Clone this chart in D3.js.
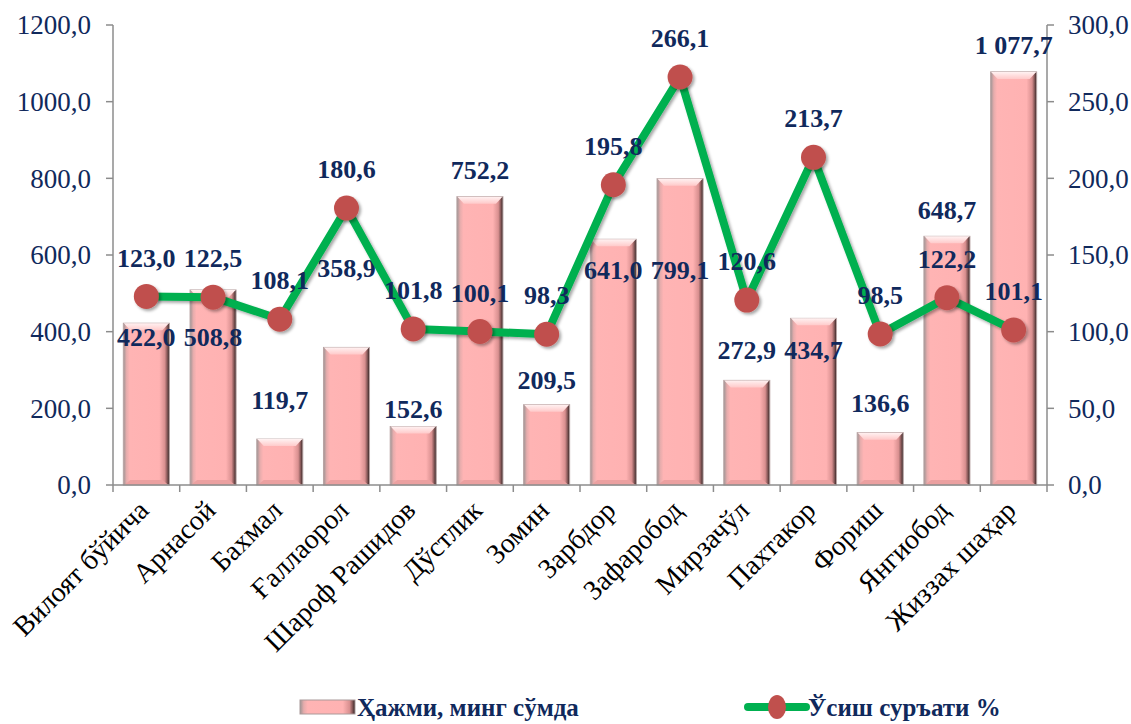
<!DOCTYPE html>
<html>
<head>
<meta charset="utf-8">
<script src="https://cdn.jsdelivr.net/npm/d3@7"></script>
<style>
  body { margin: 0; background: #fff; }
</style>
</head>
<body>
<svg id="chart" width="1131" height="724"></svg>
<script>
// chart data
const categories = ["Вилоят бўйича", "Арнасой", "Бахмал", "Ғаллаорол", "Шароф Рашидов", "Дўстлик", "Зомин",
  "Зарбдор", "Зафаробод", "Мирзачўл", "Пахтакор", "Фориш", "Янгиобод", "Жиззах шаҳар"];
const volume = [422.0, 508.8, 119.7, 358.9, 152.6, 752.2, 209.5, 641.0, 799.1, 272.9, 434.7, 136.6, 648.7, 1077.7];
const growth = [123.0, 122.5, 108.1, 180.6, 101.8, 100.1, 98.3, 195.8, 266.1, 120.6, 213.7, 98.5, 122.2, 101.1];
const leftTicks = [0, 200, 400, 600, 800, 1000, 1200];
const rightTicks = [0, 50, 100, 150, 200, 250, 300];
const seriesNames = ["Ҳажми, минг сўмда", "Ўсиш суръати %"];

// manual nudges of the bar value labels (px, relative to bar top)
const barLabelDy = [14, 47, -39, -80, -18, -27, -25, 31, 91, -30, 32, -30, -26, -27];

const FONT = "'Liberation Serif'";
const svg = d3.select("#chart");
const margin = { left: 113, right: 84, top: 25, bottom: 239 };
const W = 1131, H = 724;

const x = d3.scaleBand().domain(categories).range([margin.left, W - margin.right]).padding(0);
const yL = d3.scaleLinear().domain([0, 1200]).range([H - margin.bottom, margin.top]);
const yR = d3.scaleLinear().domain([0, 300]).range([H - margin.bottom, margin.top]);

const loc = d3.formatLocale({ decimal: ",", thousands: " ", grouping: [3], currency: ["", ""] });
const fmtAxis = loc.format(".1f");
const fmtVal = loc.format(",.1f");

const navy = "#10295c";
const axisColor = "#8c8c8c";

// defs
const defs = svg.append("defs");
const grad = defs.append("linearGradient").attr("id", "barGrad").attr("x1", 0).attr("x2", 1).attr("y1", 0).attr("y2", 0);
[["0%", "#9c9494"], ["7%", "#e6acac"], ["14%", "#ffb4b4"], ["78%", "#ffb2b2"], ["90%", "#d99090"], ["96%", "#7a5050"], ["100%", "#2a2020"]]
  .forEach(s => grad.append("stop").attr("offset", s[0]).attr("stop-color", s[1]));
const topGrad = defs.append("linearGradient").attr("id", "topGrad").attr("x1", 0).attr("x2", 0).attr("y1", 0).attr("y2", 1);
topGrad.append("stop").attr("offset", "0%").attr("stop-color", "#fff2f2");
topGrad.append("stop").attr("offset", "100%").attr("stop-color", "#ffcaca");
const shadow = defs.append("filter").attr("id", "shadow").attr("x", "-50%").attr("y", "-50%").attr("width", "200%").attr("height", "200%");
shadow.append("feDropShadow").attr("dx", 2).attr("dy", 2).attr("stdDeviation", 1.5).attr("flood-color", "#000").attr("flood-opacity", 0.35);

// bars
const barW = x.bandwidth() * 0.69;
const bev = 7;
const bars = svg.append("g").selectAll("g").data(volume).enter().append("g")
  .attr("transform", (d, i) => "translate(" + (x(categories[i]) + (x.bandwidth() - barW) / 2) + ",0)");

bars.append("rect")
  .attr("x", 0).attr("y", d => yL(d))
  .attr("width", barW).attr("height", d => yL(0) - yL(d))
  .attr("fill", "url(#barGrad)").attr("stroke", "#b9a4a4").attr("stroke-width", 1);
bars.append("path")
  .attr("d", d => {
    const t = yL(d);
    return "M0.5," + t + "L" + (barW - 0.5) + "," + t + "L" + (barW - bev) + "," + (t + bev) + "L" + bev + "," + (t + bev) + "Z";
  })
  .attr("fill", "url(#topGrad)");
bars.append("path")
  .attr("d", d => {
    const b = yL(0), t = yL(d), h = Math.min(5, (b - t) / 3);
    return "M" + bev + "," + (b - h) + "L" + (barW - bev) + "," + (b - h) + "L" + (barW - 1) + "," + b + "L1," + b + "Z";
  })
  .attr("fill", "#eba0a0");

// axes
const xAxisG = svg.append("g").attr("transform", "translate(0," + yL(0) + ")");
xAxisG.append("line").attr("x1", margin.left).attr("x2", W - margin.right).attr("stroke", axisColor).attr("stroke-width", 1.5);
const bounds = categories.map(c => x(c)).concat([W - margin.right]);
xAxisG.selectAll(".xt").data(bounds).enter().append("line")
  .attr("x1", d => d).attr("x2", d => d).attr("y1", 0).attr("y2", 7)
  .attr("stroke", axisColor).attr("stroke-width", 1.5);
xAxisG.selectAll(".xl").data(categories).enter().append("text")
  .attr("transform", d => "translate(" + (x(d) + x.bandwidth() / 2 + 4) + ",27) rotate(-45)")
  .attr("text-anchor", "end")
  .attr("font-family", FONT)
  .attr("font-size", 28)
  .attr("fill", "#000")
  .text(d => d);

const leftAxis = svg.append("g").attr("transform", "translate(" + margin.left + ",0)");
leftAxis.append("line").attr("y1", yL(1200)).attr("y2", yL(0)).attr("stroke", axisColor).attr("stroke-width", 1.5);
leftAxis.selectAll(".t").data(leftTicks).enter().append("line")
  .attr("x1", -7).attr("x2", 0).attr("y1", d => yL(d)).attr("y2", d => yL(d))
  .attr("stroke", axisColor).attr("stroke-width", 1.5);
leftAxis.selectAll(".l").data(leftTicks).enter().append("text")
  .attr("x", -22).attr("y", d => yL(d)).attr("dy", "0.35em")
  .attr("text-anchor", "end").attr("font-family", FONT).attr("font-size", 27).attr("fill", navy)
  .text(d => fmtAxis(d));

const rightAxis = svg.append("g").attr("transform", "translate(" + (W - margin.right) + ",0)");
rightAxis.append("line").attr("y1", yR(300)).attr("y2", yR(0)).attr("stroke", axisColor).attr("stroke-width", 1.5);
rightAxis.selectAll(".t").data(rightTicks).enter().append("line")
  .attr("x1", 0).attr("x2", 7).attr("y1", d => yR(d)).attr("y2", d => yR(d))
  .attr("stroke", axisColor).attr("stroke-width", 1.5);
rightAxis.selectAll(".l").data(rightTicks).enter().append("text")
  .attr("x", 21).attr("y", d => yR(d)).attr("dy", "0.35em")
  .attr("text-anchor", "start").attr("font-family", FONT).attr("font-size", 27).attr("fill", navy)
  .text(d => fmtAxis(d));

// bar labels
svg.append("g").selectAll("text").data(volume).enter().append("text")
  .attr("x", (d, i) => x(categories[i]) + x.bandwidth() / 2)
  .attr("y", (d, i) => yL(d) + barLabelDy[i])
  .attr("dy", "0.35em")
  .attr("text-anchor", "middle").attr("font-family", FONT).attr("font-size", 26).attr("font-weight", "bold").attr("fill", navy)
  .text(d => fmtVal(d));

// growth line
const line = d3.line()
  .x((d, i) => x(categories[i]) + x.bandwidth() / 2)
  .y(d => yR(d));
svg.append("path").datum(growth)
  .attr("d", line).attr("fill", "none")
  .attr("stroke", "#00b050").attr("stroke-width", 8).attr("stroke-linejoin", "round")
  .attr("filter", "url(#shadow)");
svg.append("g").selectAll("circle").data(growth).enter().append("circle")
  .attr("cx", (d, i) => x(categories[i]) + x.bandwidth() / 2)
  .attr("cy", d => yR(d))
  .attr("r", 12.5)
  .attr("fill", "#c0504d")
  .attr("filter", "url(#shadow)");
svg.append("g").selectAll("text").data(growth).enter().append("text")
  .attr("x", (d, i) => x(categories[i]) + x.bandwidth() / 2)
  .attr("y", d => yR(d) - 39)
  .attr("dy", "0.35em")
  .attr("text-anchor", "middle").attr("font-family", FONT).attr("font-size", 26).attr("font-weight", "bold").attr("fill", navy)
  .text(d => fmtVal(d));

// legend
const legend = svg.append("g").attr("transform", "translate(0,707)");
legend.append("rect").attr("x", 300).attr("y", -7).attr("width", 55).attr("height", 14)
  .attr("fill", "url(#barGrad)").attr("stroke", "#a99").attr("stroke-width", 1);
legend.append("text").attr("x", 357).attr("y", 0).attr("dy", "0.35em")
  .attr("font-family", FONT).attr("font-size", 25).attr("font-weight", "bold").attr("fill", navy).text(seriesNames[0]);
legend.append("line").attr("x1", 748).attr("x2", 806).attr("y1", 0).attr("y2", 0)
  .attr("stroke", "#00b050").attr("stroke-width", 8).attr("stroke-linecap", "round");
legend.append("ellipse").attr("cx", 777).attr("cy", 0).attr("rx", 9).attr("ry", 12).attr("fill", "#c0504d");
legend.append("text").attr("x", 808).attr("y", 0).attr("dy", "0.35em")
  .attr("font-family", FONT).attr("font-size", 25).attr("font-weight", "bold").attr("fill", navy).text(seriesNames[1]);
</script>
</body>
</html>
